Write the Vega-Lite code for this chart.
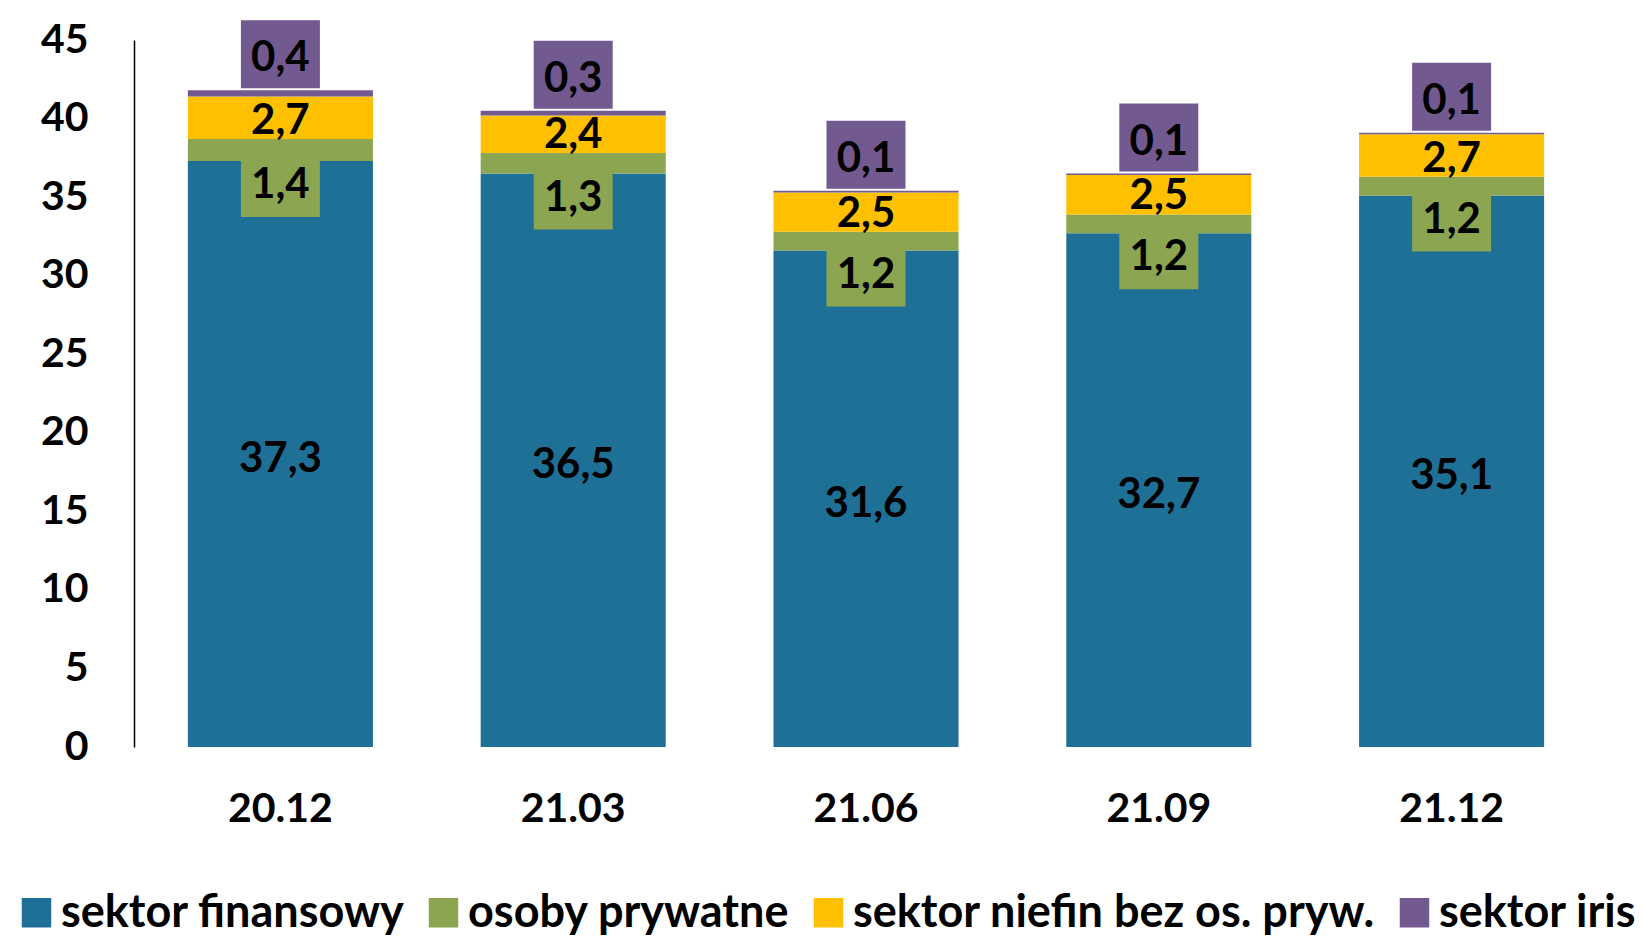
{
  "$schema": "https://vega.github.io/schema/vega-lite/v6.json",
  "width": 1464,
  "height": 707,
  "autosize": "none",
  "padding": {"left": 134, "top": 40, "right": 46, "bottom": 189},
  "background": "white",
  "config": {
    "locale": {"number": {"decimal": ",", "thousands": " ", "grouping": [3], "currency": ["", ""]}},
    "view": {"stroke": null},
    "font": "Lato",
    "text": {"font": "Lato", "fontWeight": "bold", "fontSize": 42, "color": "#000000", "align": "center", "baseline": "middle"}
  },
  "data": {
    "values": [
      {"period": "20.12", "series": "sektor finansowy", "k": 1, "v": 37.3},
      {"period": "20.12", "series": "osoby prywatne", "k": 2, "v": 1.4},
      {"period": "20.12", "series": "sektor niefin bez os. pryw.", "k": 3, "v": 2.7},
      {"period": "20.12", "series": "sektor iris", "k": 4, "v": 0.4},
      {"period": "21.03", "series": "sektor finansowy", "k": 1, "v": 36.5},
      {"period": "21.03", "series": "osoby prywatne", "k": 2, "v": 1.3},
      {"period": "21.03", "series": "sektor niefin bez os. pryw.", "k": 3, "v": 2.4},
      {"period": "21.03", "series": "sektor iris", "k": 4, "v": 0.3},
      {"period": "21.06", "series": "sektor finansowy", "k": 1, "v": 31.6},
      {"period": "21.06", "series": "osoby prywatne", "k": 2, "v": 1.2},
      {"period": "21.06", "series": "sektor niefin bez os. pryw.", "k": 3, "v": 2.5},
      {"period": "21.06", "series": "sektor iris", "k": 4, "v": 0.1},
      {"period": "21.09", "series": "sektor finansowy", "k": 1, "v": 32.7},
      {"period": "21.09", "series": "osoby prywatne", "k": 2, "v": 1.2},
      {"period": "21.09", "series": "sektor niefin bez os. pryw.", "k": 3, "v": 2.5},
      {"period": "21.09", "series": "sektor iris", "k": 4, "v": 0.1},
      {"period": "21.12", "series": "sektor finansowy", "k": 1, "v": 35.1},
      {"period": "21.12", "series": "osoby prywatne", "k": 2, "v": 1.2},
      {"period": "21.12", "series": "sektor niefin bez os. pryw.", "k": 3, "v": 2.7},
      {"period": "21.12", "series": "sektor iris", "k": 4, "v": 0.1}
    ]
  },
  "transform": [
    {"stack": "v", "groupby": ["period"], "sort": [{"field": "k", "order": "ascending"}], "as": ["v0", "v1"]}
  ],
  "encoding": {
    "x": {
      "field": "period",
      "type": "nominal",
      "sort": null,
      "scale": {"paddingInner": 0.368, "paddingOuter": 0.184},
      "axis": {
        "title": null, "domain": false, "ticks": false, "labelAngle": 0,
        "labelFont": "Lato", "labelFontSize": 41, "labelFontWeight": "bold", "labelColor": "#000000",
        "labelPadding": 62, "labelBaseline": "middle"
      }
    }
  },
  "layer": [
    {
      "mark": {"type": "bar", "strokeWidth": 0},
      "encoding": {
        "y": {
          "field": "v0", "type": "quantitative",
          "scale": {"domain": [0, 45], "nice": false, "zero": true},
          "axis": {
            "title": null, "values": [0, 5, 10, 15, 20, 25, 30, 35, 40, 45],
            "domain": true, "domainColor": "#000000", "domainWidth": 1.5,
            "ticks": false, "grid": false,
            "labelFont": "Lato", "labelFontSize": 41, "labelFontWeight": "bold", "labelColor": "#000000",
            "labelPadding": 46
          }
        },
        "y2": {"field": "v1"},
        "color": {
          "field": "series", "type": "nominal",
          "scale": {
            "domain": ["sektor finansowy", "osoby prywatne", "sektor niefin bez os. pryw.", "sektor iris"],
            "range": ["#1E7096", "#8BA550", "#FFC000", "#72598F"]
          },
          "legend": {
            "orient": "none", "legendX": -120, "legendY": 850, "direction": "horizontal", "columns": 4,
            "title": null, "symbolType": "square", "symbolSize": 870, "symbolStrokeWidth": 0, "symbolOpacity": 1,
            "labelFont": "Lato", "labelFontSize": 45, "labelFontWeight": "bold", "labelColor": "#000000",
            "labelLimit": 900, "labelOffset": 2, "columnPadding": 16
          }
        }
      }
    },
    {
      "transform": [{"filter": "datum.series === 'sektor finansowy'"}],
      "mark": {"type": "text", "dy": 5},
      "encoding": {
        "y": {"field": "v1", "type": "quantitative", "scale": {"domain": [0, 90], "nice": false}, "axis": null},
        "text": {"field": "v", "type": "quantitative", "format": ".1f"}
      }
    },
    {
      "transform": [{"filter": "datum.series === 'osoby prywatne'"}],
      "mark": {"type": "point", "shape": "M-1,-0.86L1,-0.86L1,0.86L-1,0.86Z", "size": 6241, "filled": true, "fill": "#8BA550", "opacity": 1, "strokeWidth": 0, "yOffset": 22},
      "encoding": {
        "y": {"field": "v0", "type": "quantitative", "scale": {"domain": [0, 45], "nice": false}, "axis": null}
      }
    },
    {
      "transform": [{"filter": "datum.series === 'osoby prywatne'"}],
      "mark": {"type": "text", "dy": 24},
      "encoding": {
        "y": {"field": "v0", "type": "quantitative", "scale": {"domain": [0, 45], "nice": false}, "axis": null},
        "text": {"field": "v", "type": "quantitative", "format": ".1f"}
      }
    },
    {
      "transform": [{"filter": "datum.series === 'sektor niefin bez os. pryw.'"}],
      "mark": {"type": "text", "dy": -18},
      "encoding": {
        "y": {"field": "v0", "type": "quantitative", "scale": {"domain": [0, 45], "nice": false}, "axis": null},
        "text": {"field": "v", "type": "quantitative", "format": ".1f"}
      }
    },
    {
      "transform": [{"filter": "datum.series === 'sektor iris'"}],
      "mark": {"type": "point", "shape": "M-1,-0.86L1,-0.86L1,0.86L-1,0.86Z", "size": 6241, "filled": true, "fill": "#72598F", "opacity": 1, "strokeWidth": 0, "yOffset": -36},
      "encoding": {
        "y": {"field": "v1", "type": "quantitative", "scale": {"domain": [0, 45], "nice": false}, "axis": null}
      }
    },
    {
      "transform": [{"filter": "datum.series === 'sektor iris'"}],
      "mark": {"type": "text", "dy": -32},
      "encoding": {
        "y": {"field": "v1", "type": "quantitative", "scale": {"domain": [0, 45], "nice": false}, "axis": null},
        "text": {"field": "v", "type": "quantitative", "format": ".1f"}
      }
    }
  ],
  "resolve": {"scale": {"y": "independent"}}
}
